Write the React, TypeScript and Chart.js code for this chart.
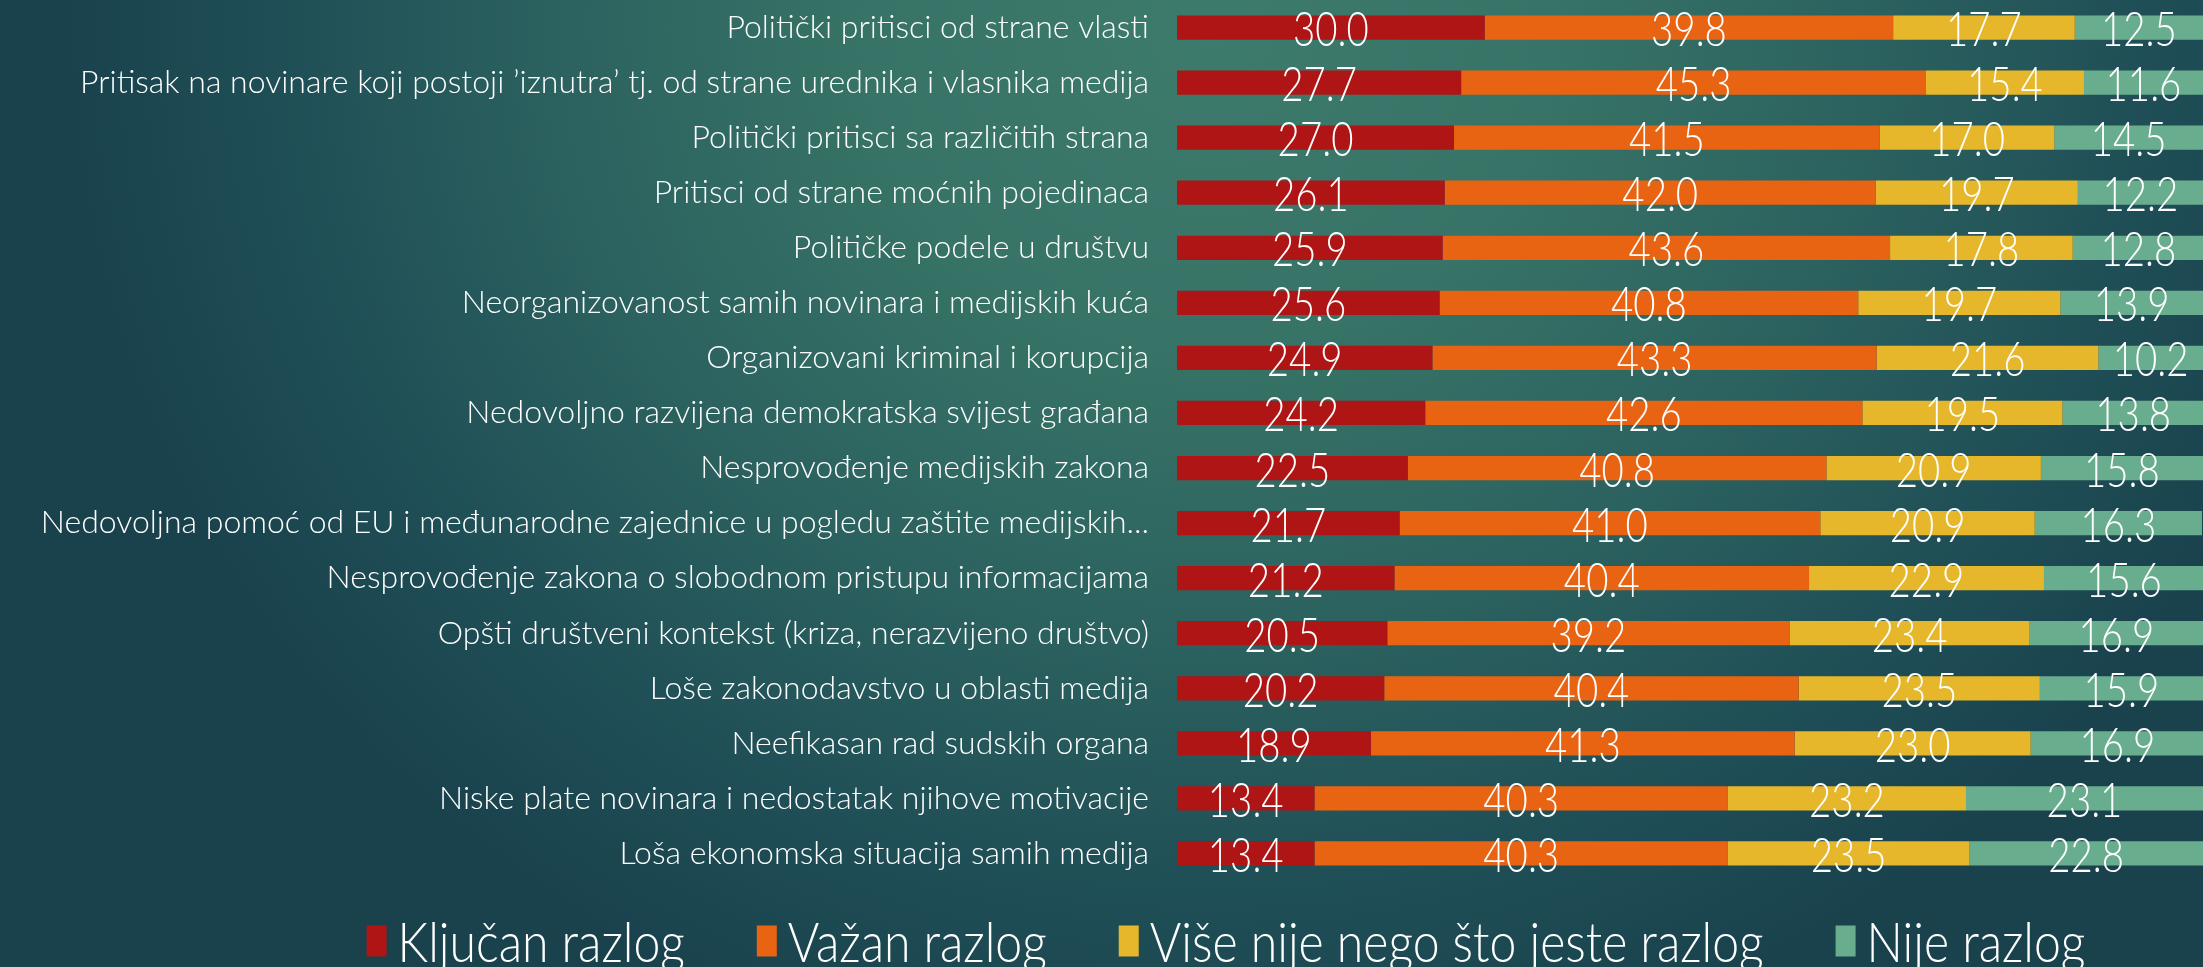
import React, { useEffect, useRef } from 'react';
import { Chart, registerables } from 'chart.js';

Chart.register(...registerables);

const categories = [
  'Politički pritisci od strane vlasti',
  'Pritisak na novinare koji postoji ’iznutra’ tj. od strane urednika i vlasnika medija',
  'Politički pritisci sa različitih strana',
  'Pritisci od strane moćnih pojedinaca',
  'Političke podele u društvu',
  'Neorganizovanost samih novinara i medijskih kuća',
  'Organizovani kriminal i korupcija',
  'Nedovoljno razvijena demokratska svijest građana',
  'Nesprovođenje medijskih zakona',
  'Nedovoljna pomoć od EU i međunarodne zajednice u pogledu zaštite medijskih...',
  'Nesprovođenje zakona o slobodnom pristupu informacijama',
  'Opšti društveni kontekst (kriza, nerazvijeno društvo)',
  'Loše zakonodavstvo u oblasti medija',
  'Neefikasan rad sudskih organa',
  'Niske plate novinara i nedostatak njihove motivacije',
  'Loša ekonomska situacija samih medija',
];

const kljucanRazlog = [30.0, 27.7, 27.0, 26.1, 25.9, 25.6, 24.9, 24.2, 22.5, 21.7, 21.2, 20.5, 20.2, 18.9, 13.4, 13.4];
const vazanRazlog = [39.8, 45.3, 41.5, 42.0, 43.6, 40.8, 43.3, 42.6, 40.8, 41.0, 40.4, 39.2, 40.4, 41.3, 40.3, 40.3];
const viseNijeRazlog = [17.7, 15.4, 17.0, 19.7, 17.8, 19.7, 21.6, 19.5, 20.9, 20.9, 22.9, 23.4, 23.5, 23.0, 23.2, 23.5];
const nijeRazlog = [12.5, 11.6, 14.5, 12.2, 12.8, 13.9, 10.2, 13.8, 15.8, 16.3, 15.6, 16.9, 15.9, 16.9, 23.1, 22.8];

const seriesNames = ['Ključan razlog', 'Važan razlog', 'Više nije nego što jeste razlog', 'Nije razlog'];
const seriesColors = ['#b01515', '#e86412', '#e6b72a', '#69ad8f'];

const FONT = 'Lato, "Open Sans", sans-serif';

export default function App() {
  const ref = useRef<HTMLCanvasElement>(null);

  useEffect(() => {
    if (!ref.current) return;

    const valueLabels = {
      id: 'valueLabels',
      afterDatasetsDraw(chart: any) {
        const ctx = chart.ctx;
        const sx = 0.8;
        ctx.save();
        ctx.font = `300 48px ${FONT}`;
        ctx.fillStyle = '#ffffff';
        ctx.textAlign = 'center';
        ctx.textBaseline = 'middle';
        chart.data.datasets.forEach((ds: any, di: number) => {
          const meta = chart.getDatasetMeta(di);
          meta.data.forEach((el: any, i: number) => {
            const p = el.getCenterPoint();
            ctx.save();
            ctx.translate(p.x, p.y + 3);
            ctx.scale(sx, 1);
            ctx.fillText(Number(ds.data[i]).toFixed(1), 0, 0);
            ctx.restore();
          });
        });
        ctx.restore();
      },
    };

    const bottomLegend = {
      id: 'bottomLegend',
      afterDraw(chart: any) {
        const ctx = chart.ctx;
        ctx.save();
        const fontSize = 56;
        const sx = 0.86;
        ctx.font = `300 ${fontSize}px ${FONT}`;
        const boxW = 20;
        const boxH = 31;
        const gap = 11;
        const spacing = 72;
        const items = chart.data.datasets.map((ds: any) => ({
          text: ds.label,
          color: ds.backgroundColor,
          w: ctx.measureText(ds.label).width * sx,
        }));
        const total = items.reduce((s: number, it: any) => s + boxW + gap + it.w, 0) + spacing * (items.length - 1);
        const centerX = 1226;
        const cy = 941;
        let x = centerX - total / 2;
        ctx.textBaseline = 'middle';
        ctx.textAlign = 'left';
        items.forEach((it: any) => {
          ctx.fillStyle = it.color;
          ctx.fillRect(x, cy - boxH / 2, boxW, boxH);
          ctx.save();
          ctx.translate(x + boxW + gap, cy + 3);
          ctx.scale(sx, 1);
          ctx.fillStyle = '#ffffff';
          ctx.fillText(it.text, 0, 0);
          ctx.restore();
          x += boxW + gap + it.w + spacing;
        });
        ctx.restore();
      },
    };

    const seriesData = [kljucanRazlog, vazanRazlog, viseNijeRazlog, nijeRazlog];

    const chart = new Chart(ref.current, {
      type: 'bar',
      data: {
        labels: categories,
        datasets: seriesNames.map((name, i) => ({
          label: name,
          data: seriesData[i],
          backgroundColor: seriesColors[i],
          borderWidth: 0,
          barPercentage: 0.44,
          categoryPercentage: 1,
        })),
      },
      options: {
        indexAxis: 'y',
        responsive: false,
        devicePixelRatio: 1,
        animation: false,
        layout: { padding: 0 },
        plugins: {
          legend: { display: false },
          tooltip: { enabled: false },
        },
        scales: {
          x: {
            stacked: true,
            min: 0,
            max: 100,
            grid: { display: false, drawTicks: false },
            border: { display: false },
            ticks: { display: false },
            afterFit: (s: any) => { s.height = 86; s.paddingLeft = 0; s.paddingRight = 0; },
          },
          y: {
            stacked: true,
            grid: { display: false, drawTicks: false },
            border: { display: false },
            ticks: {
              autoSkip: false,
              color: '#ffffff',
              padding: 28,
              font: { family: FONT, size: 32, weight: '300' },
            },
            afterFit: (s: any) => {
              s.width = 1177;
              s.paddingTop = 0;
              s.paddingBottom = 0;
            },
          },
        },
      },
      plugins: [valueLabels, bottomLegend],
    });

    return () => chart.destroy();
  }, []);

  return (
    <div
      style={{
        position: 'fixed',
        left: 0,
        top: 0,
        width: 2203,
        height: 967,
        overflow: 'hidden',
        background:
          'radial-gradient(ellipse 52% 110% at 55% 3%, #3d7b6d 0%, #377366 30%, #2b615f 58%, #1f4e56 82%, #19424d 100%)',
      }}
    >
      <canvas ref={ref} width={2203} height={967} style={{ display: 'block', width: 2203, height: 967 }} />
    </div>
  );
}
